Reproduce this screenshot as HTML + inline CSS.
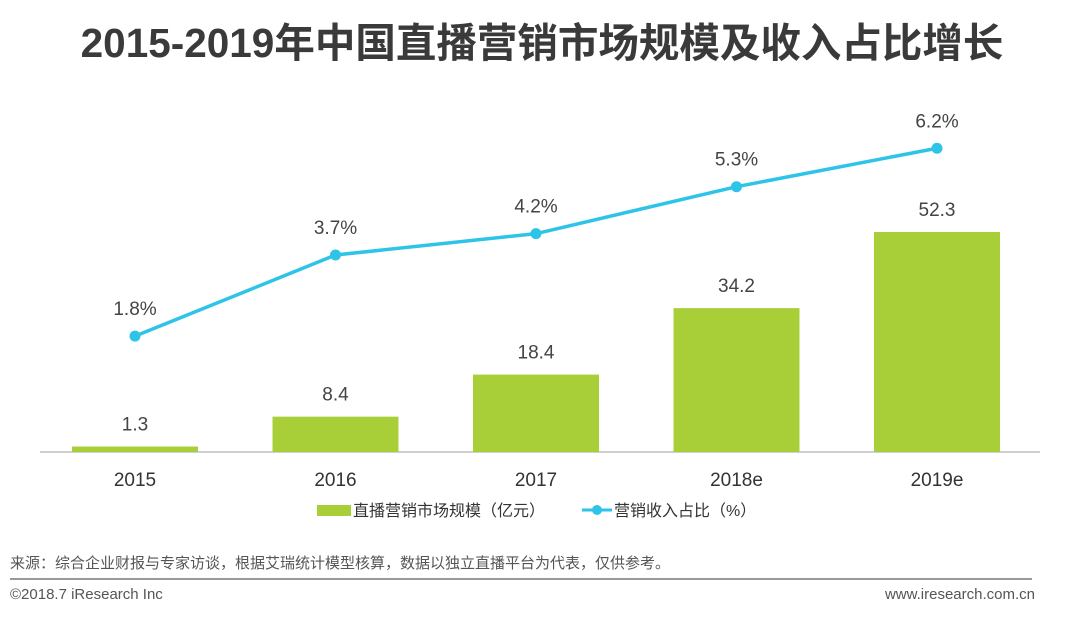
<!DOCTYPE html>
<html><head><meta charset="utf-8"><style>
body{margin:0;width:1080px;height:613px;background:#fff;overflow:hidden;font-family:"Liberation Sans","Noto Sans CJK SC",sans-serif;}
svg text{font-family:"Liberation Sans","Noto Sans CJK SC",sans-serif;}
</style></head><body>
<svg id="c" width="1080" height="613">
<text x="542" y="57" text-anchor="middle" font-size="40.5" font-weight="bold" fill="#3a3a3a">2015-2019年中国直播营销市场规模及收入占比增长</text>
<line x1="40" y1="452" x2="1040" y2="452" stroke="#bfbfbf" stroke-width="1.5"/>
<g id="bars"></g><g id="line"></g>
<g>
<rect x="317" y="505" width="34" height="11" fill="#a9cf38"/>
<text x="353" y="516" font-size="16" fill="#333">直播营销市场规模（亿元）</text>
<line x1="582" y1="510" x2="612" y2="510" stroke="#2ec4e8" stroke-width="3"/>
<circle cx="597" cy="510" r="5" fill="#2ec4e8"/>
<text x="614" y="516" font-size="16" fill="#333">营销收入占比（%）</text>
</g>
<text x="10" y="568" font-size="15" fill="#555">来源：综合企业财报与专家访谈，根据艾瑞统计模型核算，数据以独立直播平台为代表，仅供参考。</text>
<line x1="10" y1="579" x2="1032" y2="579" stroke="#999" stroke-width="2"/>
<text x="10" y="599" font-size="15" fill="#555">©2018.7 iResearch Inc</text>
<text x="1035" y="599" font-size="15" fill="#555" text-anchor="end">www.iresearch.com.cn</text>
</svg>
<script>
const categories=["2015","2016","2017","2018e","2019e"];
const marketSize=[1.3,8.4,18.4,34.2,52.3];
const sharePct=[1.8,3.7,4.2,5.3,6.2];
const NS="http://www.w3.org/2000/svg";
function xPos(i){return 135+i*200.5;}
function yBar(v){return 452-v*4.207;}
function yLine(v){return 413-v*42.7;}
function mk(t,a,p){const e=document.createElementNS(NS,t);for(const k in a)e.setAttribute(k,a[k]);p.appendChild(e);return e;}
const bars=document.getElementById('bars'),line=document.getElementById('line');
categories.forEach((c,i)=>{
 const x=xPos(i),y=yBar(marketSize[i]);
 const r=mk('rect',{x:x-63,y:y,width:126,height:452-y,fill:'#a9cf38'},bars);
 
 
 const t=mk('text',{x:x,y:y-16,'text-anchor':'middle','font-size':19,fill:'#444'},bars);t.textContent=marketSize[i];
 
 
 const l=mk('text',{x:x,y:486,'text-anchor':'middle','font-size':19,fill:'#333'},bars);l.textContent=c;
 
 
});
const pts=sharePct.map((v,i)=>xPos(i)+','+yLine(v)).join(' ');
const pl=mk('polyline',{points:pts,fill:'none',stroke:'#2ec4e8','stroke-width':3.5},line);


sharePct.forEach((v,i)=>{
 const x=xPos(i),y=yLine(v);
 const p=mk('circle',{cx:x,cy:y,r:5.5,fill:'#2ec4e8'},line);
 
 
 const t=mk('text',{x:x,y:y-21,'text-anchor':'middle','font-size':19,fill:'#444'},line);t.textContent=v.toFixed(1)+'%';
 
 
});
</script>
</body></html>
